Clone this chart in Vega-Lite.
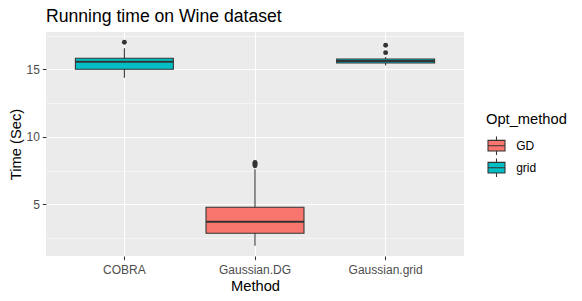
{
  "$schema": "https://vega.github.io/schema/vega-lite/v6.json",
  "autosize": "none",
  "width": 418,
  "height": 224,
  "padding": {"left": 46, "top": 32, "right": 118, "bottom": 45},
  "background": "white",
  "title": {"text": "Running time on Wine dataset", "anchor": "start", "frame": "group", "fontSize": 17.6, "fontWeight": "normal", "color": "black", "baseline": "alphabetic", "offset": 10, "dy": 18},
  "config": {
    "font": "Liberation Sans",
    "view": {"fill": "#EBEBEB", "stroke": null}
  },
  "resolve": {"axis": {"y": "independent"}},
  "datasets": {
    "boxes": [
      {"Method": "COBRA", "Opt_method": "grid", "lower": 14.38, "q1": 15.0, "median": 15.56, "q3": 15.81, "upper": 16.56},
      {"Method": "Gaussian.DG", "Opt_method": "GD", "lower": 1.93, "q1": 2.85, "median": 3.71, "q3": 4.78, "upper": 7.59},
      {"Method": "Gaussian.grid", "Opt_method": "grid", "lower": 15.27, "q1": 15.47, "median": 15.61, "q3": 15.76, "upper": 15.91}
    ],
    "outliers": [
      {"Method": "COBRA", "Time": 17.0},
      {"Method": "Gaussian.DG", "Time": 7.85},
      {"Method": "Gaussian.DG", "Time": 7.95},
      {"Method": "Gaussian.DG", "Time": 8.02},
      {"Method": "Gaussian.DG", "Time": 8.1},
      {"Method": "Gaussian.grid", "Time": 16.23},
      {"Method": "Gaussian.grid", "Time": 16.78}
    ]
  },
  "encoding": {
    "x": {
      "field": "Method", "type": "nominal",
      "scale": {"domain": ["COBRA", "Gaussian.DG", "Gaussian.grid"], "paddingInner": 0, "paddingOuter": 0.1},
      "axis": {
        "title": "Method", "labelAngle": 0, "bandPosition": 0.5,
        "grid": true, "gridColor": "white", "gridWidth": 1.07,
        "domain": false, "tickColor": "#333333", "tickSize": 3.67, "tickWidth": 1.07,
        "labelFontSize": 12, "labelColor": "#4D4D4D", "labelBaseline": "alphabetic", "labelPadding": 14.3,
        "titleFontSize": 14.7, "titleFontWeight": "normal", "titleColor": "black",
        "titleBaseline": "alphabetic", "titleY": 34.7, "titleX": 209
      }
    }
  },
  "layer": [
    {
      "data": {"name": "boxes"},
      "mark": {"type": "rule", "color": "#333333", "strokeWidth": 1.07},
      "encoding": {
        "y": {
          "field": "lower", "type": "quantitative",
          "scale": {"domain": [1.17, 17.76], "nice": false, "zero": false},
          "axis": {
            "title": "Time (Sec)",
            "values": [5, 10, 15],
            "grid": true, "gridColor": "white", "gridWidth": 1.07,
            "domain": false, "tickColor": "#333333", "tickSize": 3.67, "tickWidth": 1.07,
            "labelFontSize": 12, "labelColor": "#4D4D4D", "labelPadding": 2.9,
            "titleFontSize": 14.7, "titleFontWeight": "normal", "titleColor": "black",
            "titleAngle": 270, "titleBaseline": "alphabetic", "titleAlign": "center", "titleX": -26, "titleY": 112
          }
        },
        "y2": {"field": "upper"}
      }
    },
    {
      "data": {"name": "boxes"},
      "mark": {"type": "bar", "stroke": "#333333", "strokeWidth": 1.07, "width": {"band": 0.75}},
      "encoding": {
        "y": {
          "field": "q1", "type": "quantitative",
          "axis": {
            "orient": "right", "title": null, "values": [2.5, 7.5, 12.5, 17.5],
            "grid": true, "gridColor": "white", "gridWidth": 0.53,
            "labels": false, "ticks": false, "domain": false
          }
        },
        "y2": {"field": "q3"},
        "color": {
          "field": "Opt_method", "type": "nominal",
          "scale": {"domain": ["GD", "grid"], "range": ["#F8766D", "#00BFC4"]},
          "legend": {
            "title": "Opt_method", "orient": "none", "legendX": 440, "legendY": 80,
            "symbolType": "M-0.872,-0.549H0.872V0.549H-0.872Z M-0.872,0H0.872 M0,-0.95V-0.549 M0,0.549V0.95",
            "symbolSize": 380, "symbolStrokeColor": "#333333", "symbolStrokeWidth": 1.07, "symbolOpacity": 1,
            "labelFontSize": 12, "labelColor": "black", "labelOffset": 9.2,
            "titleFontSize": 14.7, "titleFontWeight": "normal", "titleColor": "black", "titlePadding": 8.5,
            "rowPadding": -3
          }
        }
      }
    },
    {
      "data": {"name": "boxes"},
      "mark": {"type": "tick", "color": "#333333", "thickness": 2.13, "size": 98, "opacity": 1},
      "encoding": {
        "y": {"field": "median", "type": "quantitative", "axis": null}
      }
    },
    {
      "data": {"name": "outliers"},
      "mark": {"type": "point", "filled": true, "size": 24, "color": "#333333", "opacity": 1},
      "encoding": {
        "y": {"field": "Time", "type": "quantitative", "axis": null}
      }
    }
  ]
}
